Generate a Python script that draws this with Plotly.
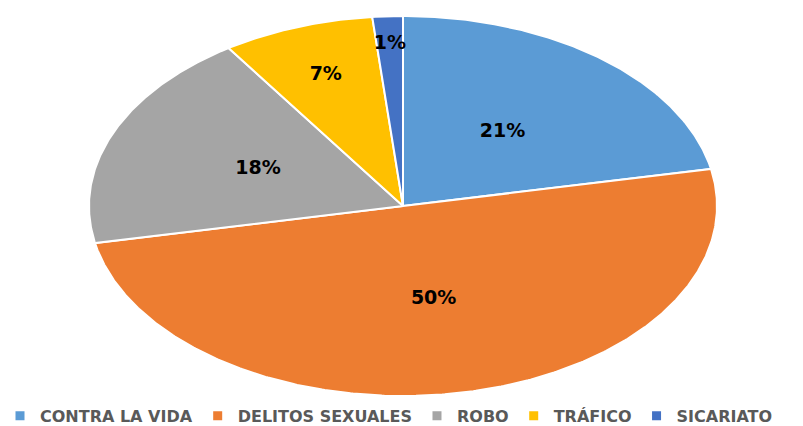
import numpy as np
import plotly.graph_objects as go

categories = ["CONTRA LA VIDA", "DELITOS SEXUALES", "ROBO", "TRÁFICO", "SICARIATO"]
values = [14, 32, 12, 5, 1]
labels = ["21%", "50%", "18%", "7%", "1%"]

colors = ["#5B9BD5", "#ED7D31", "#A5A5A5", "#FFC000", "#4472C4"]
label_r = [0.5, 0.5, 0.5, 0.73, 0.85]

total = float(sum(values))
fig = go.Figure()

start = 0.0
lx, ly = [], []
for i, v in enumerate(values):
    span = v / total * 2 * np.pi
    th = np.linspace(start, start + span, max(int(span * 120), 4))
    xs = np.concatenate([[0], np.sin(th), [0]])
    ys = np.concatenate([[0], np.cos(th), [0]])
    fig.add_trace(go.Scatter(x=xs, y=ys, fill="toself", fillcolor=colors[i],
                             mode="lines", line=dict(color="white", width=2),
                             showlegend=False, hoverinfo="skip"))
    mid = start + span / 2
    lx.append(label_r[i] * np.sin(mid))
    ly.append(label_r[i] * np.cos(mid))
    start += span

fig.add_trace(go.Scatter(x=lx, y=ly, mode="text", text=labels,
                         textfont=dict(family="DejaVu Sans", size=19, color="black", weight="bold"),
                         showlegend=False, hoverinfo="skip"))

for i, c in enumerate(categories):
    fig.add_trace(go.Scatter(x=[None], y=[None], mode="markers", name=c,
                             marker=dict(symbol="square", size=9, color=colors[i])))

fig.update_layout(
    width=803, height=426,
    margin=dict(l=0, r=0, t=0, b=0, autoexpand=False),
    paper_bgcolor="white", plot_bgcolor="white",
    xaxis=dict(range=[-403 / 314, 400 / 314], visible=False, fixedrange=True),
    yaxis=dict(range=[-220 / 190, 206 / 190], visible=False, fixedrange=True),
    legend=dict(orientation="h", x=0, xanchor="left", y=0.024, yanchor="middle",
                font=dict(family="DejaVu Sans", size=16, color="#595959", weight="bold"),
                itemwidth=30, tracegroupgap=0, bgcolor="rgba(0,0,0,0)"),
)

fig.write_html("out.html", config={"displayModeBar": False},
               post_script="document.body.style.margin='0';")
